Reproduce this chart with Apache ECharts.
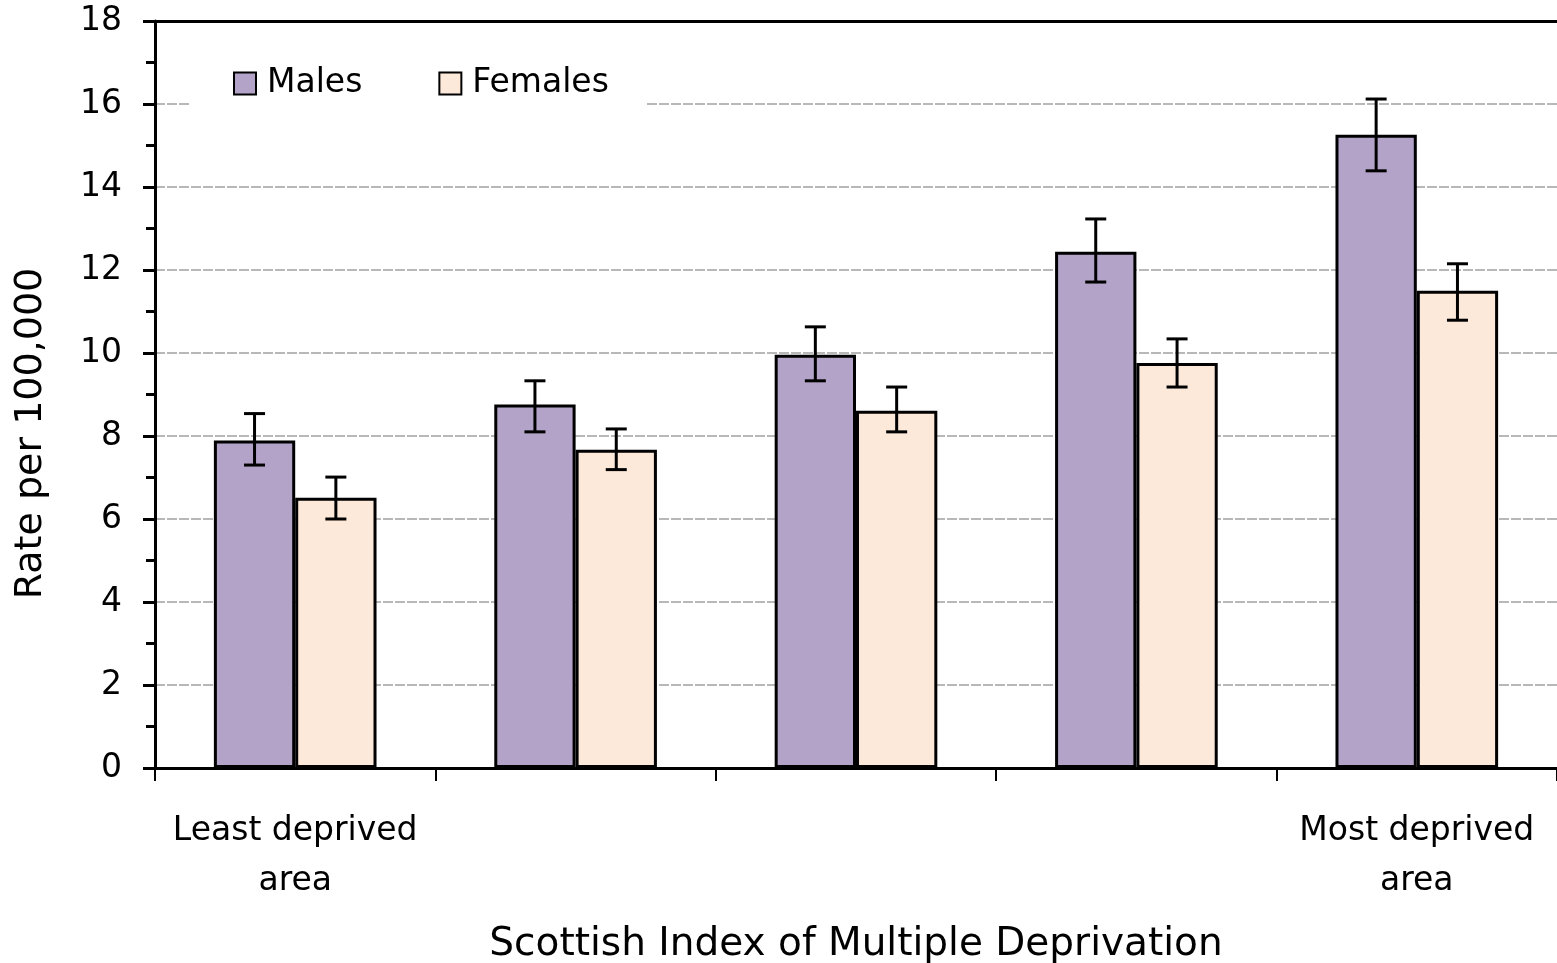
<!DOCTYPE html>
<html>
<head>
<meta charset="utf-8">
<script src="https://cdn.jsdelivr.net/npm/echarts@6/dist/echarts.min.js"></script>
<style>
  html, body { margin: 0; padding: 0; background: #fff; }
  #chart { width: 1557px; height: 963px; }
</style>
</head>
<body>
<div id="chart"></div>
<script>
// categories (SIMD quintiles)
const categories = ['Least deprived\narea', '', '', '', 'Most deprived\narea']
const yTicks = [0, 2, 4, 6, 8, 10, 12, 14, 16, 18]

// rates per 100,000
const males = [7.89, 8.76, 9.96, 12.44, 15.26]
const femaleRates = [6.51, 7.67, 8.61, 9.76, 11.50]

// confidence intervals [low, high]
const malesCI = [[7.30, 8.54], [8.10, 9.33], [9.33, 10.63], [11.71, 13.23], [14.39, 16.12]]
const femalesCI = [[6.00, 7.01], [7.19, 8.17], [8.10, 9.18], [9.18, 10.34], [10.79, 12.15]]

const font = 'DejaVu Sans'
const catGap = 0.42

const chart = echarts.init(document.getElementById('chart'))

// draws one error bar, shifted to sit on the middle of its bar
function errorBar(side) {
  return function (params, api) {
    const x = api.value(0)
    const lo = api.coord([x, api.value(1)])
    const hi = api.coord([x, api.value(2)])
    const band = api.size([1, 0])[0]
    const barW = band * (1 - catGap) / 2
    const cx = lo[0] + side * barW / 2
    const cap = 10.5
    const style = { stroke: '#000', lineWidth: 3 }
    return {
      type: 'group',
      children: [
        { type: 'line', shape: { x1: cx, y1: hi[1], x2: cx, y2: lo[1] }, style },
        { type: 'line', shape: { x1: cx - cap, y1: hi[1], x2: cx + cap, y2: hi[1] }, style },
        { type: 'line', shape: { x1: cx - cap, y1: lo[1], x2: cx + cap, y2: lo[1] }, style }
      ]
    }
  }
}

const option = {
  animation: false,
  textStyle: { fontFamily: font },
  grid: { left: 155, right: 0, top: 21, bottom: 195, outerBoundsMode: 'none' },
  legend: {
    data: ['Males', 'Females'],
    left: 190,
    top: 51,
    padding: [16, 37, 16, 43],
    backgroundColor: '#fff',
    itemWidth: 22,
    itemHeight: 22,
    itemGap: 76,
    icon: 'rect',
    textStyle: { fontFamily: font, fontSize: 33, color: '#000', padding: [0, 0, 0, 6] }
  },
  xAxis: [
    {
      type: 'category',
      data: categories,
      axisLine: { lineStyle: { color: '#000', width: 3 } },
      axisTick: { show: true, interval: 0, length: 13, lineStyle: { color: '#000', width: 2 } },
      axisLabel: {
        interval: 0, margin: 38, color: '#000',
        fontFamily: font, fontSize: 33, lineHeight: 50
      },
      name: 'Scottish Index of Multiple Deprivation',
      nameLocation: 'middle',
      nameGap: 157,
      nameTextStyle: { fontFamily: font, fontSize: 39, color: '#000' }
    },
    {
      // top frame line
      type: 'category',
      data: categories,
      position: 'top',
      axisLine: { lineStyle: { color: '#000', width: 3 } },
      axisTick: { show: false },
      axisLabel: { show: false }
    }
  ],
  yAxis: {
    type: 'value',
    min: yTicks[0],
    max: yTicks[yTicks.length - 1],
    interval: 2,
    axisLine: { show: true, lineStyle: { color: '#000', width: 3 } },
    axisTick: { show: true, length: 12, lineStyle: { color: '#000', width: 3 } },
    minorTick: { show: true, splitNumber: 2, length: 9, lineStyle: { color: '#000', width: 3 } },
    axisLabel: { margin: 33, color: '#000', fontFamily: font, fontSize: 33 },
    splitLine: { show: true, lineStyle: { color: '#b8b8b8', width: 2, type: [10, 2] } },
    name: 'Rate per 100,000',
    nameLocation: 'middle',
    nameGap: 105,
    nameTextStyle: { fontFamily: font, fontSize: 38, color: '#000', padding: [0, 78, 0, 0] }
  },
  series: [
    {
      name: 'Males',
      type: 'bar',
      data: males,
      barGap: '0%',
      barCategoryGap: (catGap * 100) + '%',
      itemStyle: { color: '#b3a3c8', borderColor: '#000', borderWidth: 3 }
    },
    {
      name: 'Females',
      type: 'bar',
      data: femaleRates,
      itemStyle: { color: '#fde9da', borderColor: '#000', borderWidth: 3 }
    },
    {
      type: 'custom',
      renderItem: errorBar(-1),
      data: malesCI.map((d, i) => [i, d[0], d[1]]),
      encode: { x: 0, y: [1, 2] },
      z: 5
    },
    {
      type: 'custom',
      renderItem: errorBar(1),
      data: femalesCI.map((d, i) => [i, d[0], d[1]]),
      encode: { x: 0, y: [1, 2] },
      z: 5
    }
  ]
}

chart.setOption(option)
</script>
</body>
</html>
